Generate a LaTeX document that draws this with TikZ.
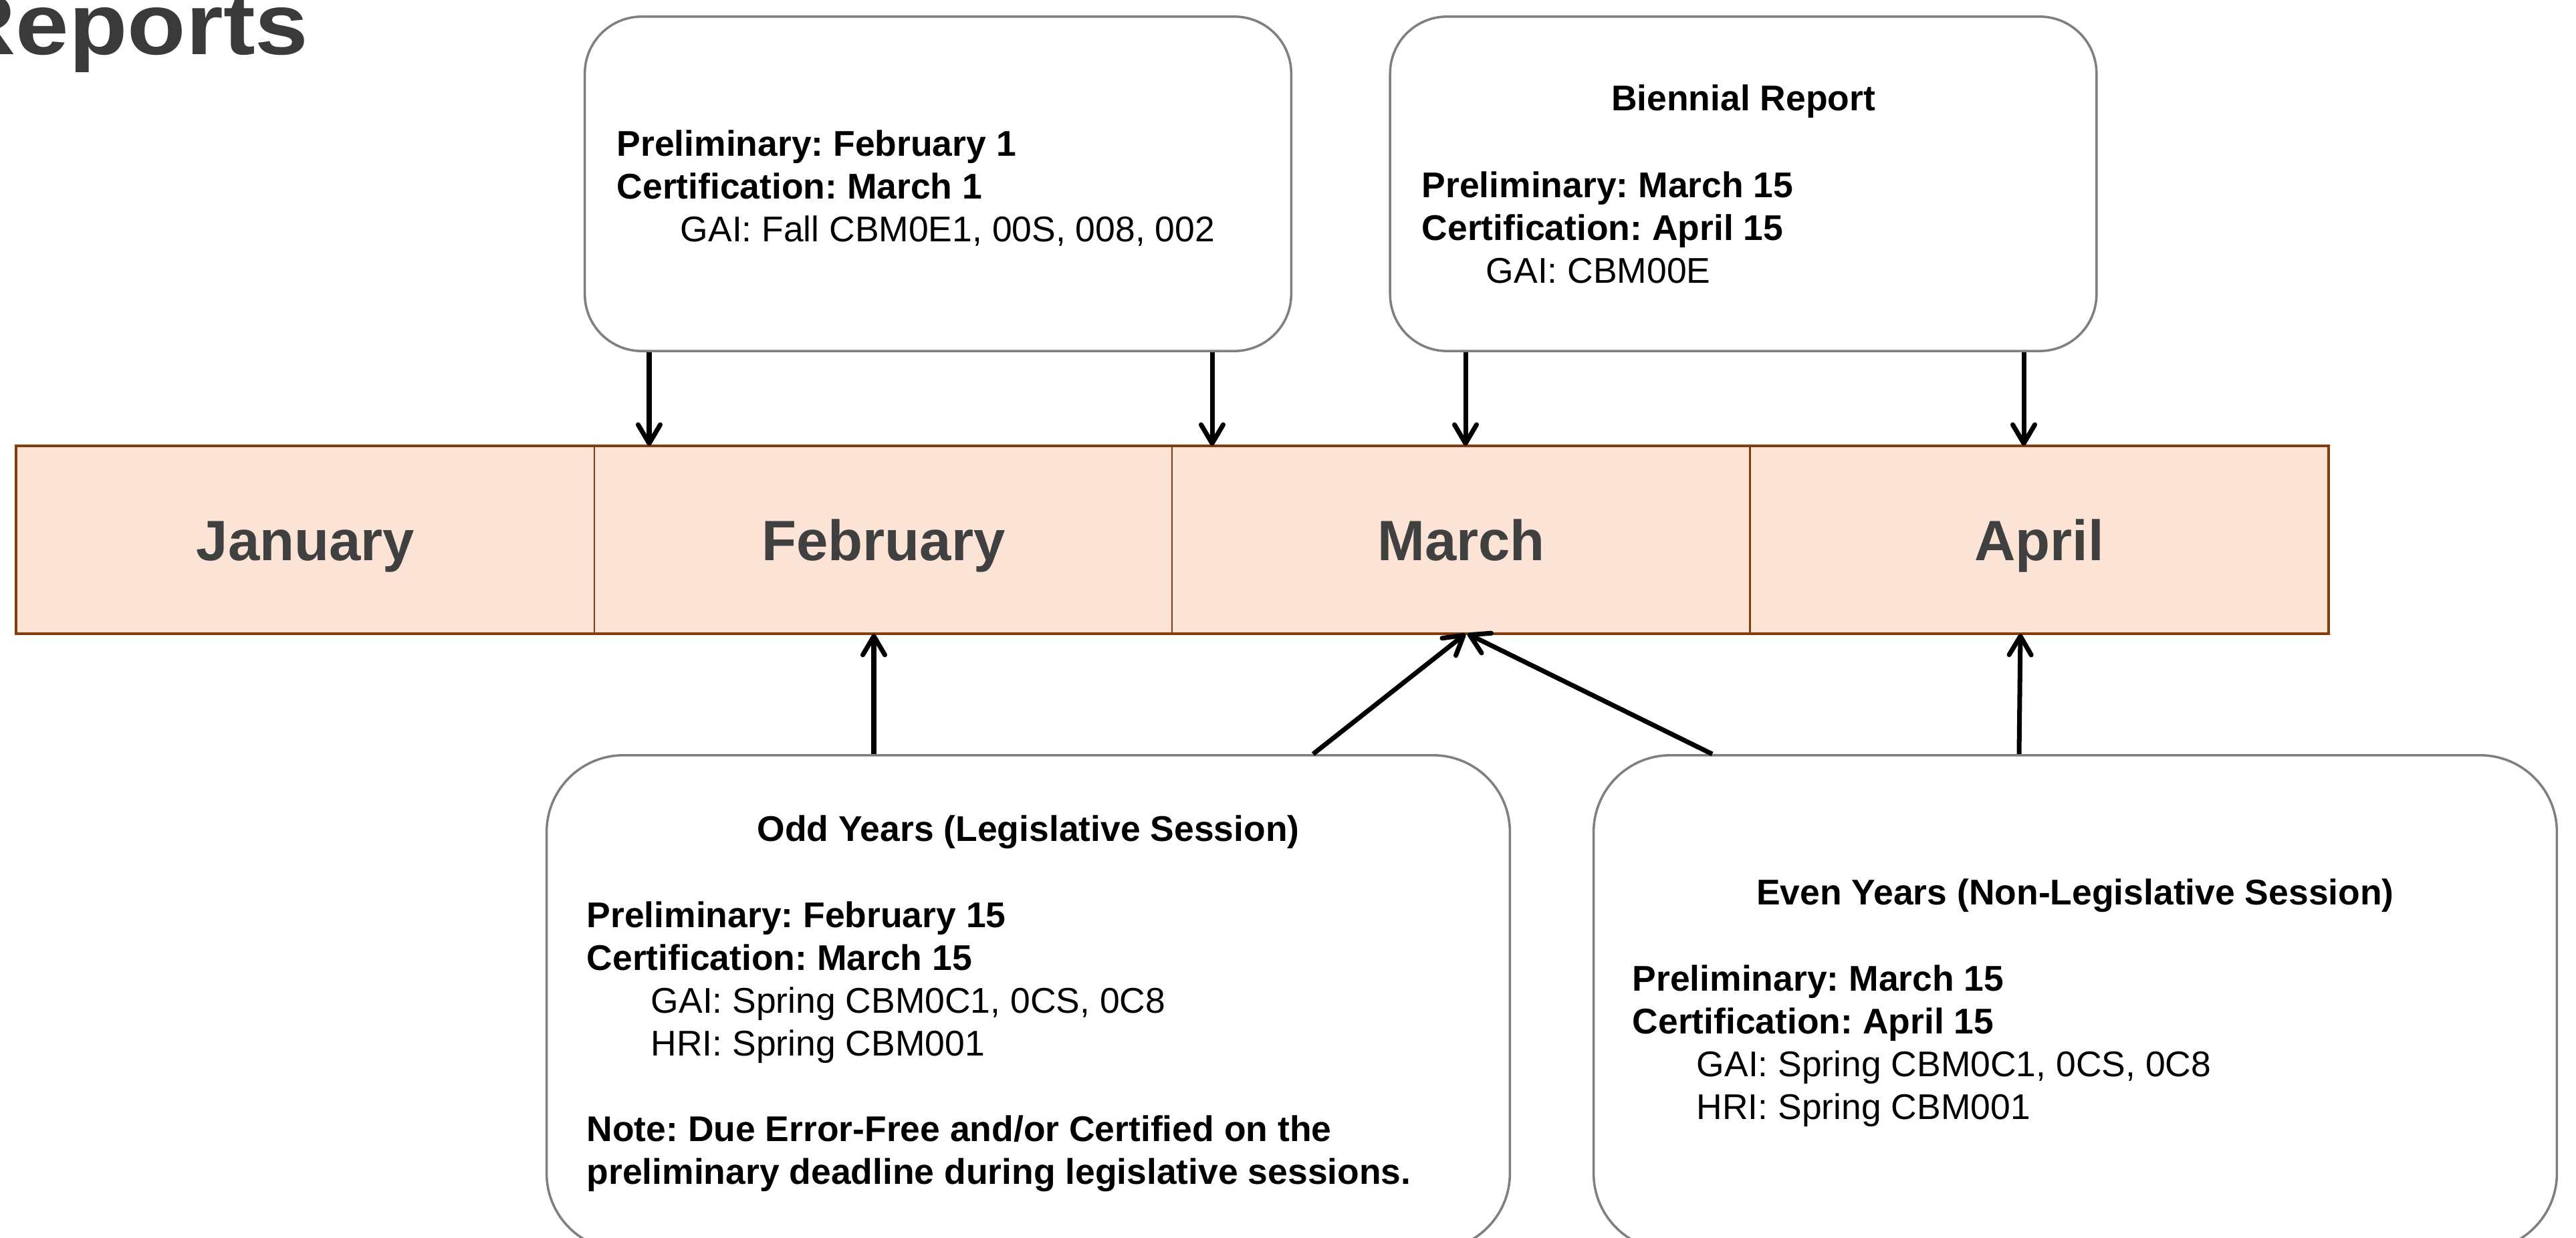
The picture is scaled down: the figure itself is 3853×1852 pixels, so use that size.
\documentclass[tikz,border=0pt]{standalone}
\usepackage{fontspec}
\setmainfont{Liberation Sans}
\usepackage{graphicx}
\usetikzlibrary{arrows.meta}
\frenchspacing

\definecolor{barfill}{HTML}{FBE3D6}
\definecolor{barline}{HTML}{843C0C}
\definecolor{boxline}{HTML}{7F7F7F}
\definecolor{monthtext}{HTML}{404040}
\definecolor{titletext}{HTML}{3A3A3A}

\begin{document}
\begin{tikzpicture}[x=0.01cm, y=-0.01cm,
  month/.style={draw=barline, line width=0.6pt, fill=barfill,
    minimum width=8.6425cm, minimum height=2.79cm, inner sep=0pt,
    text height=0.61cm, text depth=0cm,
    font=\fontsize{24.2pt}{29pt}\selectfont\bfseries, text=monthtext},
  datebox/.style={draw=boxline, line width=1pt, fill=white,
    rounded corners=0.85cm, inner sep=0pt},
  widebox/.style={datebox, rounded corners=1.15cm,
    minimum width=14.4cm, minimum height=7.4cm},
  narrowbox/.style={datebox, minimum width=10.56cm, minimum height=5cm},
  boxhead/.style={anchor=base, inner sep=0pt,
    font=\fontsize{15.2pt}{18.2pt}\selectfont\bfseries},
  boxbody/.style={anchor=north west, align=left, inner sep=0pt,
    font=\fontsize{15.2pt}{18.2pt}\selectfont},
  arr/.style={line width=2pt, black,
    -{Straight Barb[length=2.8mm, width=3.3mm, round]}}
]
\useasboundingbox (0,0) rectangle (3853,1852);
\clip (0,0) rectangle (3853,1852);

% page heading
\node[anchor=base east, inner sep=0pt, text=titletext,
  font=\fontsize{37pt}{44pt}\selectfont\bfseries] (heading) at (462,82)
  {\scalebox{1.1}[1]{Reports}};

% month bar
\node[month] (jan) at (457.1,807.5)  {January};
\node[month] (feb) at (1321.4,807.5) {February};
\node[month] (mar) at (2185.6,807.5) {March};
\node[month] (apr) at (3049.9,807.5) {April};
\draw[barline, line width=0.9pt] (jan.north west) rectangle (apr.south east);

% deadline boxes
\node[narrowbox] (fall) at (1403,275) {};
\node[narrowbox] (bien) at (2607.5,275) {};
\node[widebox] (odd)  at (1538,1500) {};
\node[widebox] (even) at (3104,1500) {};

% box texts
\node[boxbody] (falltxt) at (922,193.7)
  {\textbf{Preliminary: February 1}\\
   \textbf{Certification: March 1}\\
   \hspace*{0.95cm}GAI: Fall CBM0E1, 00S, 008, 002};

\node[boxhead] (bienhead) at (2607.5,166) {Biennial Report};
\node[boxbody] (bientxt) at (2126,255.7)
  {\textbf{Preliminary: March 15}\\
   \textbf{Certification: April 15}\\
   \hspace*{0.96cm}GAI: CBM00E};

\node[boxhead] (oddhead) at (1538,1258) {Odd Years (Legislative Session)};
\node[boxbody] (oddtxt) at (877,1347.7)
  {\textbf{Preliminary: February 15}\\
   \textbf{Certification: March 15}\\
   \hspace*{0.96cm}GAI: Spring CBM0C1, 0CS, 0C8\\
   \hspace*{0.96cm}HRI: Spring CBM001\\[18.2pt]
   \textbf{Note: Due Error-Free and/or Certified on the}\\
   \textbf{preliminary deadline during legislative sessions.}};

\node[boxhead] (evenhead) at (3104,1353) {Even Years (Non-Legislative Session)};
\node[boxbody] (eventxt) at (2441,1442.7)
  {\textbf{Preliminary: March 15}\\
   \textbf{Certification: April 15}\\
   \hspace*{0.96cm}GAI: Spring CBM0C1, 0CS, 0C8\\
   \hspace*{0.96cm}HRI: Spring CBM001};

% connector columns
\coordinate (c1) at (971,0);
\coordinate (c2) at (1813,0);
\coordinate (c3) at (2192,0);
\coordinate (c4) at (3027,0);
\coordinate (c5) at (1307,0);
\coordinate (c6) at (1964,0);
\coordinate (c7) at (2561,0);
\coordinate (c8) at (2195,0);
\coordinate (c9) at (3020,0);
\coordinate (c10) at (3022,0);

% connectors
\draw[arr] (fall.south -| c1) -- (feb.north -| c1);
\draw[arr] (fall.south -| c2) -- (mar.north -| c2);
\draw[arr] (bien.south -| c3) -- (mar.north -| c3);
\draw[arr] (bien.south -| c4) -- (apr.north -| c4);
\draw[arr] (odd.north -| c5) -- (feb.south -| c5);
\draw[arr] (odd.north -| c6) -- (mar.south -| c3);
\draw[arr] (even.north -| c7) -- (mar.south -| c8);
\draw[arr] (even.north -| c9) -- (apr.south -| c10);
\end{tikzpicture}
\end{document}
